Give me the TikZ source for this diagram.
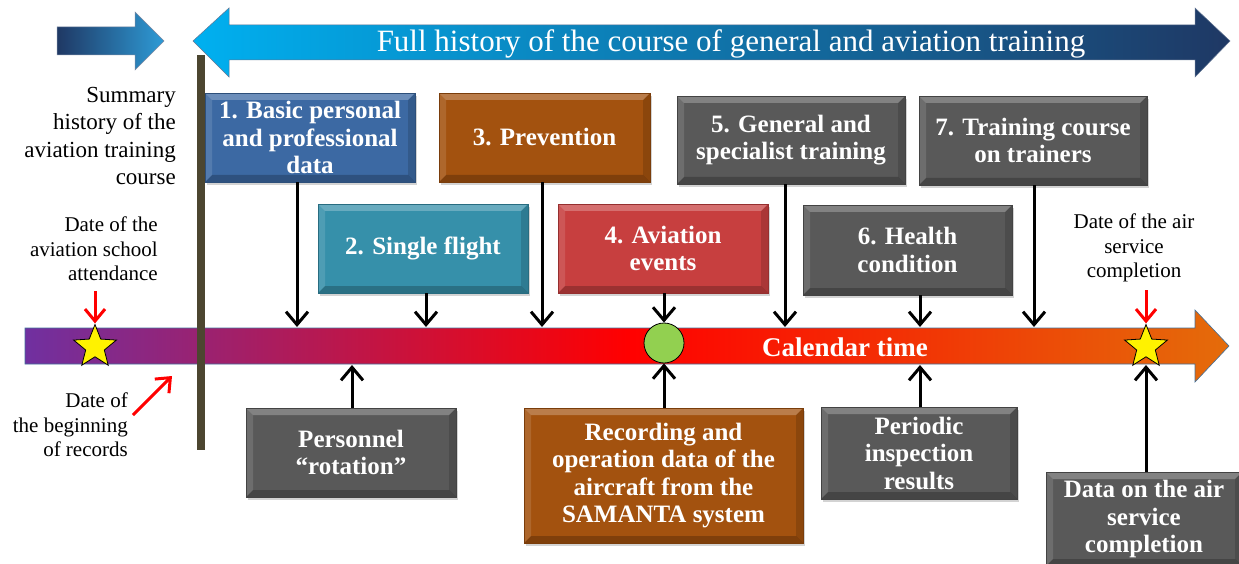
\documentclass[tikz,border=0pt]{standalone}
\usepackage{fontspec}
\setmainfont{Liberation Serif}
\usetikzlibrary{arrows.meta,shapes.geometric,shadows,calc}
\definecolor{tlpurple}{HTML}{7030A0}
\definecolor{tlred}{HTML}{FF0000}
\definecolor{tlorange}{HTML}{E46C0A}
\definecolor{navy}{HTML}{1F3864}
\definecolor{cyanb}{HTML}{00B0F0}
\definecolor{lightb}{HTML}{2E9BD6}
\definecolor{cblue}{HTML}{3C69A3}
\definecolor{cteal}{HTML}{3690AA}
\definecolor{cbrown}{HTML}{A3520F}
\definecolor{cred}{HTML}{C73F3F}
\definecolor{cgray}{HTML}{595959}
\definecolor{barcol}{HTML}{4C4630}
\definecolor{tlborder}{HTML}{41719C}
\definecolor{cgreen}{HTML}{92D050}
\pgfdeclarehorizontalshading{tlshade}{100bp}{color(0bp)=(tlpurple); color(25bp)=(tlpurple); color(50bp)=(tlred); color(75bp)=(tlorange); color(100bp)=(tlorange)}
\tikzset{
  bevel/.style={path picture={
    \fill[white,opacity=0.25] (path picture bounding box.north west) -- (path picture bounding box.north east) -- ([xshift=-7pt,yshift=-7pt]path picture bounding box.north east) -- ([xshift=7pt,yshift=-7pt]path picture bounding box.north west) -- cycle;
    \fill[white,opacity=0.12] (path picture bounding box.north west) -- ([xshift=7pt,yshift=-7pt]path picture bounding box.north west) -- ([xshift=7pt,yshift=7pt]path picture bounding box.south west) -- (path picture bounding box.south west) -- cycle;
    \fill[black,opacity=0.22] (path picture bounding box.south west) -- (path picture bounding box.south east) -- ([xshift=-7pt,yshift=7pt]path picture bounding box.south east) -- ([xshift=7pt,yshift=7pt]path picture bounding box.south west) -- cycle;
    \fill[black,opacity=0.14] (path picture bounding box.north east) -- ([xshift=-7pt,yshift=-7pt]path picture bounding box.north east) -- ([xshift=-7pt,yshift=7pt]path picture bounding box.south east) -- (path picture bounding box.south east) -- cycle;
  }},
  box/.style={draw=#1!75!black, line width=0.6pt, fill=#1, text=white,
    font=\fontsize{25}{27.5}\selectfont\bfseries, align=center, inner sep=2pt,
    drop shadow={opacity=0.35, shadow xshift=2pt, shadow yshift=-3pt}, bevel},
  blk/.style={line width=3pt, -{Straight Barb[length=13pt,width=22pt]}},
  redarr/.style={line width=3pt, red, -{Straight Barb[length=12pt,width=20pt]}},
  lbl/.style={font=\fontsize{21}{24.5}\selectfont, inner sep=0pt},
  starn/.style={star, star points=5, star point ratio=2.3, minimum size=45pt, inner sep=0pt, fill=yellow, draw=black, line width=0.8pt},
}
\begin{document}
\begin{tikzpicture}[x=1pt,y=-1pt]
\useasboundingbox (0,0) rectangle (1239,564);
% top small arrow
\path[left color=navy, right color=lightb, draw=navy!60, line width=0.5pt]
  (57,27) -- (135,27) -- (135,12) -- (164,41) -- (135,70) -- (135,55) -- (57,55) -- cycle;
% big double arrow
\path[left color=cyanb, right color=navy, draw=navy!70, line width=0.5pt]
  (193,41) -- (229,8) -- (229,25) -- (1195,25) -- (1195,8) -- (1230,41) -- (1195,77) -- (1195,60) -- (229,60) -- (229,77) -- cycle;
\node[text=white, font=\fontsize{31}{33}\selectfont, inner sep=0pt] (title) at (731,44) {Full history of the course of general and aviation training};
% timeline
\path[shading=tlshade, draw=tlborder, line width=0.6pt]
  (25,328) -- (1195,328) -- (1195,310) -- (1229,346) -- (1195,382) -- (1195,364) -- (25,364) -- cycle;
\node[text=white, font=\fontsize{27}{29}\selectfont\bfseries, inner sep=0pt] (cal) at (845,347) {Calendar time};
% vertical bar
\fill[barcol] (197,55) rectangle (205,450);
% summary label
\node[font=\fontsize{23}{27.5}\selectfont, align=right, anchor=east, inner sep=0pt] (summ) at (176,136) {Summary\\history of the\\aviation training\\course};
% boxes
\node[box=cblue, minimum width=210, minimum height=89] (b1) at (310,137.5) {1. Basic personal\\and professional\\data};
\node[box=cteal, minimum width=210, minimum height=89] (b2) at (423,248.5) {2. Single flight};
\node[box=cbrown, minimum width=211, minimum height=89] (b3) at (544.5,137.5) {3. Prevention};
\node[box=cred, minimum width=210, minimum height=89] (b4) at (663,248.5) {4. Aviation\\events};
\node[box=cgray, minimum width=228, minimum height=88] (b5) at (791,140) {5. General and\\specialist training};
\node[box=cgray, minimum width=209, minimum height=90] (b6) at (907.5,250) {6. Health\\condition};
\node[box=cgray, minimum width=228, minimum height=89] (b7) at (1033,140.5) {7. Training course\\on trainers};
\node[box=cgray, minimum width=210, minimum height=89] (p1) at (351,452.5) {Personnel\\“rotation”};
\node[box=cbrown, minimum width=279, minimum height=135] (p2) at (663.5,475.5) {Recording and\\operation data of the\\aircraft from the\\SAMANTA system};
\node[box=cgray, minimum width=196, minimum height=92] (p3) at (919,453) {Periodic\\inspection\\results};
\node[box=cgray, minimum width=196, minimum height=94] (p4) at (1144,519) {Data on the air\\service\\completion};
% markers on timeline
\node[circle, minimum size=40pt, inner sep=0pt, fill=cgreen, draw=black, line width=0.8pt] (ev) at (664,343) {};
\node[starn] (s1) at (95,347) {};
\node[starn] (s2) at (1146,347) {};
% coordinates on timeline
\coordinate (t1) at (297,327);
\coordinate (t2) at (426,327);
\coordinate (t3) at (542,327);
\coordinate (t5) at (785,327);
\coordinate (t6) at (920,327);
\coordinate (t7) at (1034,327);
\coordinate (u1) at (352,365);
\coordinate (u3) at (920,365);
\coordinate (u4) at (1146,365);
% black arrows
\draw[blk] (b1.south -| t1) -- (t1);
\draw[blk] (b2.south -| t2) -- (t2);
\draw[blk] (b3.south -| t3) -- (t3);
\draw[blk] (b4.south -| ev) -- (ev.north);
\draw[blk] (b5.south -| t5) -- (t5);
\draw[blk] (b6.south -| t6) -- (t6);
\draw[blk] (b7.south -| t7) -- (t7);
\draw[blk] (p1.north -| u1) -- (u1);
\draw[blk] (p2.north -| ev) -- (ev.south);
\draw[blk] (p3.north -| u3) -- (u3);
\draw[blk] (p4.north -| u4) -- (u4);
% labels
\node[lbl, align=right, anchor=east] (l1) at (158,249) {Date of the\\aviation school\\attendance};
\node[lbl, align=right, anchor=east] (l2) at (128,425) {Date of\\the beginning\\of records};
\node[lbl, align=center] (l3) at (1134,248) {Date of the air\\service\\completion};
% red arrows
\coordinate (r1) at (95,291);
\coordinate (r2) at (1146,290);
\coordinate (r3a) at (133,415);
\coordinate (r3b) at (172,376);
\draw[redarr] (r1) -- (s1.north);
\draw[redarr] (r2) -- (s2.north);
\draw[redarr] (r3a) -- (r3b);
\end{tikzpicture}
\end{document}
